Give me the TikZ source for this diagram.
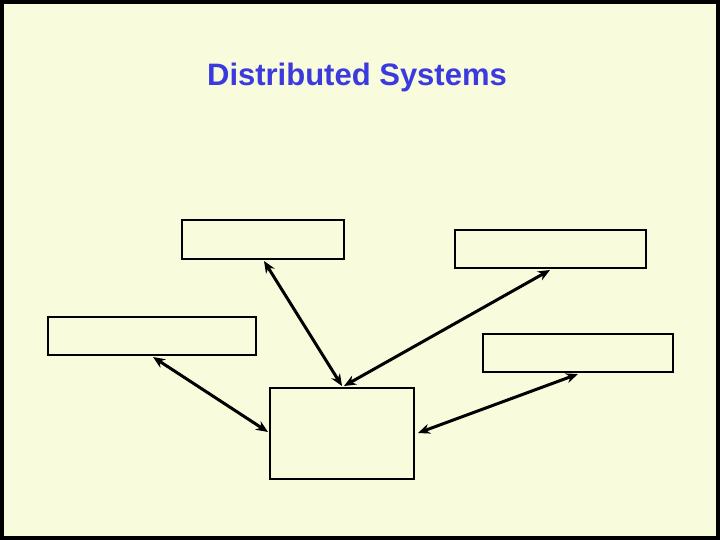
\documentclass[tikz,border=0pt]{standalone}
\usepackage{fontspec}
\setmainfont{Liberation Sans}
\usetikzlibrary{arrows.meta}
\definecolor{bg}{HTML}{F8FBDC}
\definecolor{ttl}{HTML}{3A3ADF}
\begin{document}
\begin{tikzpicture}[x=1pt,y=-1pt,
  box/.style={draw=black,line width=2.5pt},
  link/.style={line width=3pt,{Stealth[length=12pt,width=10pt]}-{Stealth[length=12pt,width=10pt]}}]
\useasboundingbox (0,0) rectangle (720,540);
\fill[bg] (0,0) rectangle (720,540);
\draw[line width=4pt] (2,2) rectangle (718,538);
\node[text=ttl,font=\bfseries\fontsize{31}{36}\selectfont] (title) at (357,77) {Distributed Systems};
\draw[box] (182,220) rectangle (344,259);
\draw[box] (455,230) rectangle (646,268);
\draw[box] (48,317) rectangle (256,355);
\draw[box] (483,334) rectangle (673,372);
\draw[box] (270,388) rectangle (414,479);
\coordinate (a) at (264,261);
\coordinate (b) at (550,270);
\coordinate (c) at (153,357);
\coordinate (d) at (578,374);
\coordinate (e1) at (342,386);
\coordinate (e2) at (344,386);
\coordinate (e3) at (268,432);
\coordinate (e4) at (418,433);
\draw[link] (a) -- (e1);
\draw[link] (b) -- (e2);
\draw[link] (c) -- (e3);
\draw[link] (d) -- (e4);
\end{tikzpicture}
\end{document}
